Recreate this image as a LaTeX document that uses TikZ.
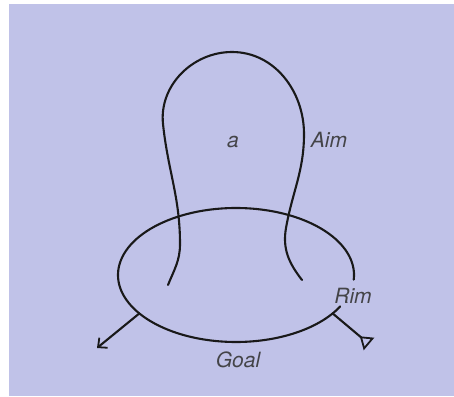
\documentclass[tikz,border=0pt]{standalone}
\usepackage{fontspec}
\setsansfont{TeX Gyre Heros}
\usepackage{xcolor}
\usepackage{tikz}
\usetikzlibrary{arrows.meta,calc}

\definecolor{bgblue}{RGB}{192,194,232}
\definecolor{ink}{RGB}{25,25,25}
\definecolor{labelgray}{RGB}{68,68,72}

\begin{document}
\begin{tikzpicture}[
  x=1pt, y=1pt,
  curve/.style={draw=ink, line width=2.1pt, line cap=round},
  lbl/.style={font=\fontsize{21}{25}\selectfont\sffamily\itshape, text=labelgray, inner sep=0pt},
  outarrow/.style={curve, -{Straight Barb[length=7pt, width=13pt, line width=1.8pt]}},
  tailarrow/.style={curve, -{Triangle[open, reversed, length=12pt, width=16pt, line width=1.8pt]}}
]
\useasboundingbox (0,0) rectangle (454,396);
\fill[white] (0,0) rectangle (454,396);
\fill[bgblue] (9,0) rectangle (454,392);

% the rim: an ellipse left open near its label
\coordinate (c) at (236,121);
\draw[curve] (c) ++(-4:118 and 67) arc[start angle=-4, end angle=332, x radius=118, y radius=67];
\coordinate (goalstart) at ($(c)+(215:118 and 67)$);
\coordinate (rimstart) at ($(c)+(-35:118 and 67)$);
\coordinate (goaltip) at (97,48);
\coordinate (rimtip) at (369,52);

% the aim: a loop hanging through the rim
\coordinate (aimleft) at (168,111);
\coordinate (aimright) at (302,116);
\draw[curve] (aimleft) to[out=68, in=-90] (180,152) to[out=90, in=-84] (163,272)
  to[out=96, in=180] (232,344) to[out=0, in=90] (304,262)
  to[out=-90, in=80] (286,168) to[out=-100, in=128] (aimright);

\draw[outarrow] (goalstart) -- (goaltip);
\draw[tailarrow] (rimstart) -- (rimtip);

\node[lbl] (a) at (233,254) {a};
\node[lbl] (aim) at (329,256) {Aim};
\node[lbl] (rim) at (353,100) {Rim};
\node[lbl] (goal) at (238,36) {Goal};

\end{tikzpicture}
\end{document}
